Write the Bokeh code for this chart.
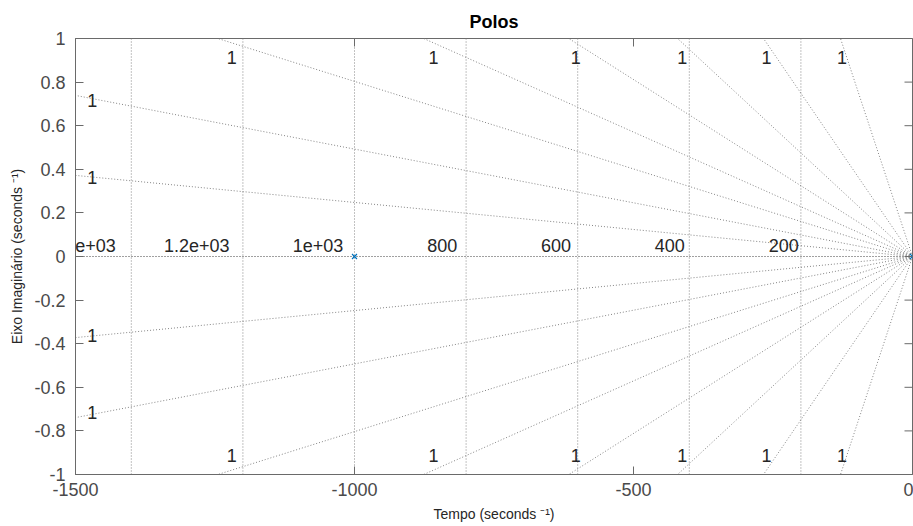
import numpy as np
from bokeh.plotting import figure
from bokeh.models import Range1d, FixedTicker, ColumnDataSource, LabelSet, Label
from bokeh.core.properties import value
from bokeh.embed import file_html
from bokeh.resources import INLINE

# ---- data ----
x_ticks = [-1500, -1000, -500, 0]
x_tick_labels = ["-1500", "-1000", "-500", "0"]
y_ticks = [-1.0, -0.8, -0.6, -0.4, -0.2, 0.0, 0.2, 0.4, 0.6, 0.8, 1.0]
y_tick_labels = ["-1", "-0.8", "-0.6", "-0.4", "-0.2", "0", "0.2", "0.4", "0.6", "0.8", "1"]

poles_re = [-1000.0, 0.0]
poles_im = [0.0, 0.0]

# natural-frequency grid (circles, nearly vertical at this aspect)
wn_values = [200, 400, 600, 800, 1000, 1200, 1400]
wn_labels = ["200", "400", "600", "800", "1e+03", "1.2e+03", "1.4e+03"]

# damping-ratio rays: where they leave the axes box
ray_top_x = [-1245, -876, -616, -421, -267, -129]   # rays ending at |Im| = 1
ray_left_y = [0.739, 0.372]                         # rays ending at Re = -1500
zeta_label = "1"

FONT = "Liberation Sans"
GRID_COL = "#858585"
AX_COL = "#6a6a6a"

xmin, xmax = -1500.0, 0.0
ymin, ymax = -1.0, 1.0

p = figure(width=913, height=526, x_range=Range1d(xmin, xmax), y_range=Range1d(ymin, ymax),
           output_backend="svg", toolbar_location=None, title="Polos",
           min_border_left=75, min_border_right=1, min_border_top=38, min_border_bottom=52)
p.grid.visible = False
p.outline_line_color = AX_COL
p.background_fill_color = "white"

# title
p.title.align = "center"
p.title.text_font = FONT
p.title.text_font_size = "18px"
p.title.text_font_style = "bold"
p.title.text_color = "black"
p.title.standoff = 13

# ---- grid: natural frequency lines ----
for wn in wn_values:
    yy = np.linspace(ymin, ymax, 3)
    xx = -np.sqrt(wn ** 2 - yy ** 2)
    p.line(xx, yy, line_color=GRID_COL, line_width=1, line_dash="1 2")

# real axis
p.line([0, xmin], [0, 0], line_color="#404040", line_width=1, line_dash="1 2")

# ---- damping rays (start at origin so dots align) ----
ends_x, ends_y, lab_x, lab_y = [], [], [], []
for ex in ray_top_x:
    for s in (1, -1):
        ends_x.append(ex); ends_y.append(s * ymax)
        lab_x.append(0.98 * ex); lab_y.append(s * 0.915 * ymax)
for ey in ray_left_y:
    for s in (1, -1):
        ends_x.append(xmin); ends_y.append(s * ey)
        lab_x.append(0.98 * xmin); lab_y.append(s * 0.97 * ey)

for ex, ey in zip(ends_x, ends_y):
    p.line([0, ex], [0, ey], line_color=GRID_COL, line_width=1, line_dash="1 2")

zsrc = ColumnDataSource(dict(x=lab_x, y=lab_y, t=[zeta_label] * len(lab_x)))
p.add_layout(LabelSet(x="x", y="y", text="t", source=zsrc, text_align="center",
                      text_baseline="middle", text_font=value(FONT),
                      text_font_size="18px", text_color="#262626"))

# wn labels
for wn, lab in zip(wn_values, wn_labels):
    p.add_layout(Label(x=-1.02 * wn, y=0.0, text=lab, text_align="right",
                       text_baseline="bottom", y_offset=5, text_font=FONT,
                       text_font_size="18px", text_color="#262626"))

# poles
p.scatter(poles_re, poles_im, marker="x", size=7, line_color="#0072BD", line_width=1.2)

# ---- axes ----
for ax, ticks, labels in ((p.xaxis[0], x_ticks, x_tick_labels), (p.yaxis[0], y_ticks, y_tick_labels)):
    ax.ticker = FixedTicker(ticks=ticks)
    ax.major_label_overrides = {t: l for t, l in zip(ticks, labels)}
    ax.major_tick_in = 8
    ax.major_tick_out = 0
    ax.minor_tick_in = 0
    ax.minor_tick_out = 0
    ax.axis_line_color = AX_COL
    ax.major_tick_line_color = AX_COL
    ax.major_label_text_font = FONT
    ax.major_label_text_font_size = "18px"
    ax.major_label_text_color = "#4a4a4a"
    ax.axis_label_text_font = FONT
    ax.axis_label_text_font_size = "14px"
    ax.axis_label_text_font_style = "normal"
    ax.axis_label_text_color = "#262626"

p.xaxis[0].axis_label = "Tempo (seconds \u207b\u00b9)"
p.yaxis[0].axis_label = "Eixo Imaginário (seconds \u207b\u00b9)"
p.xaxis[0].major_label_standoff = 8
p.xaxis[0].axis_label_standoff = 7
p.yaxis[0].major_label_standoff = 10
p.yaxis[0].axis_label_standoff = 6

# inward ticks on the right and top edges (half of each dash is clipped by the box)
p.scatter([xmax] * len(y_ticks), y_ticks, marker="dash", size=16, line_color=AX_COL,
          line_width=1)
p.scatter(x_ticks, [ymax] * len(x_ticks), marker="dash", angle=np.pi / 2, size=16,
          line_color=AX_COL, line_width=1)

open("out.html", "w").write(file_html(p, INLINE))
